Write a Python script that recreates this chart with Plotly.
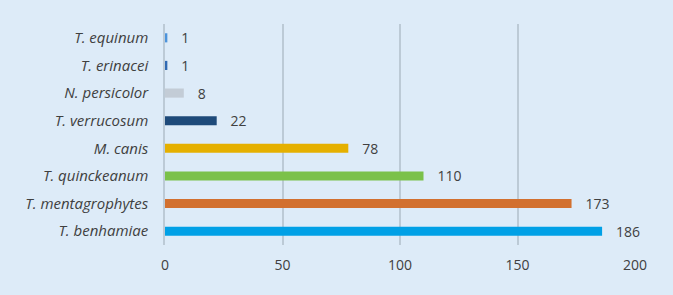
import plotly.graph_objects as go

species = ["T. benhamiae", "T. mentagrophytes", "T. quinckeanum", "M. canis",
           "T. verrucosum", "N. persicolor", "T. erinacei", "T. equinum"]
counts = [186, 173, 110, 78, 22, 8, 1, 1]
colors = ["#00A0E6", "#D2702F", "#7BC14A", "#E5B000",
          "#1E4A7A", "#C3CCD6", "#2F69B3", "#4C93DB"]
x_ticks = [0, 50, 100, 150, 200]

fig = go.Figure(go.Bar(
    y=species, x=counts, orientation="h",
    marker=dict(color=colors, line=dict(width=0)),
    width=0.33,
    text=["   " + str(c) for c in counts],
    textposition="outside",
    constraintext="none",
    textfont=dict(family="Open Sans, sans-serif", size=14, color="#404040"),
    cliponaxis=False,
))

fig.update_layout(
    width=673, height=295,
    paper_bgcolor="#DDEBF8", plot_bgcolor="#DDEBF8",
    margin=dict(l=165, r=38, t=24, b=50, autoexpand=False),
    showlegend=False,
    font=dict(family="Open Sans, sans-serif", color="#404040"),
)
fig.update_xaxes(
    range=[0, 200], tickvals=x_ticks, showgrid=True, gridcolor="#BCCAD6", gridwidth=1.5,
    zeroline=False, showline=False, automargin=False,
    tickfont=dict(size=14, color="#404040"),
    ticks="", ticklabelstandoff=10,
)
fig.update_yaxes(
    showgrid=False, zeroline=False, showline=True, linecolor="#BCCAD6", linewidth=1.5,
    automargin=False,
    tickfont=dict(size=15, color="#404040", style="italic"),
    ticks="", ticklabelstandoff=12,
)

fig.write_html("out.html", config={"displayModeBar": False},
               post_script="document.body.style.margin='0';document.body.style.background='#DDEBF8';")
